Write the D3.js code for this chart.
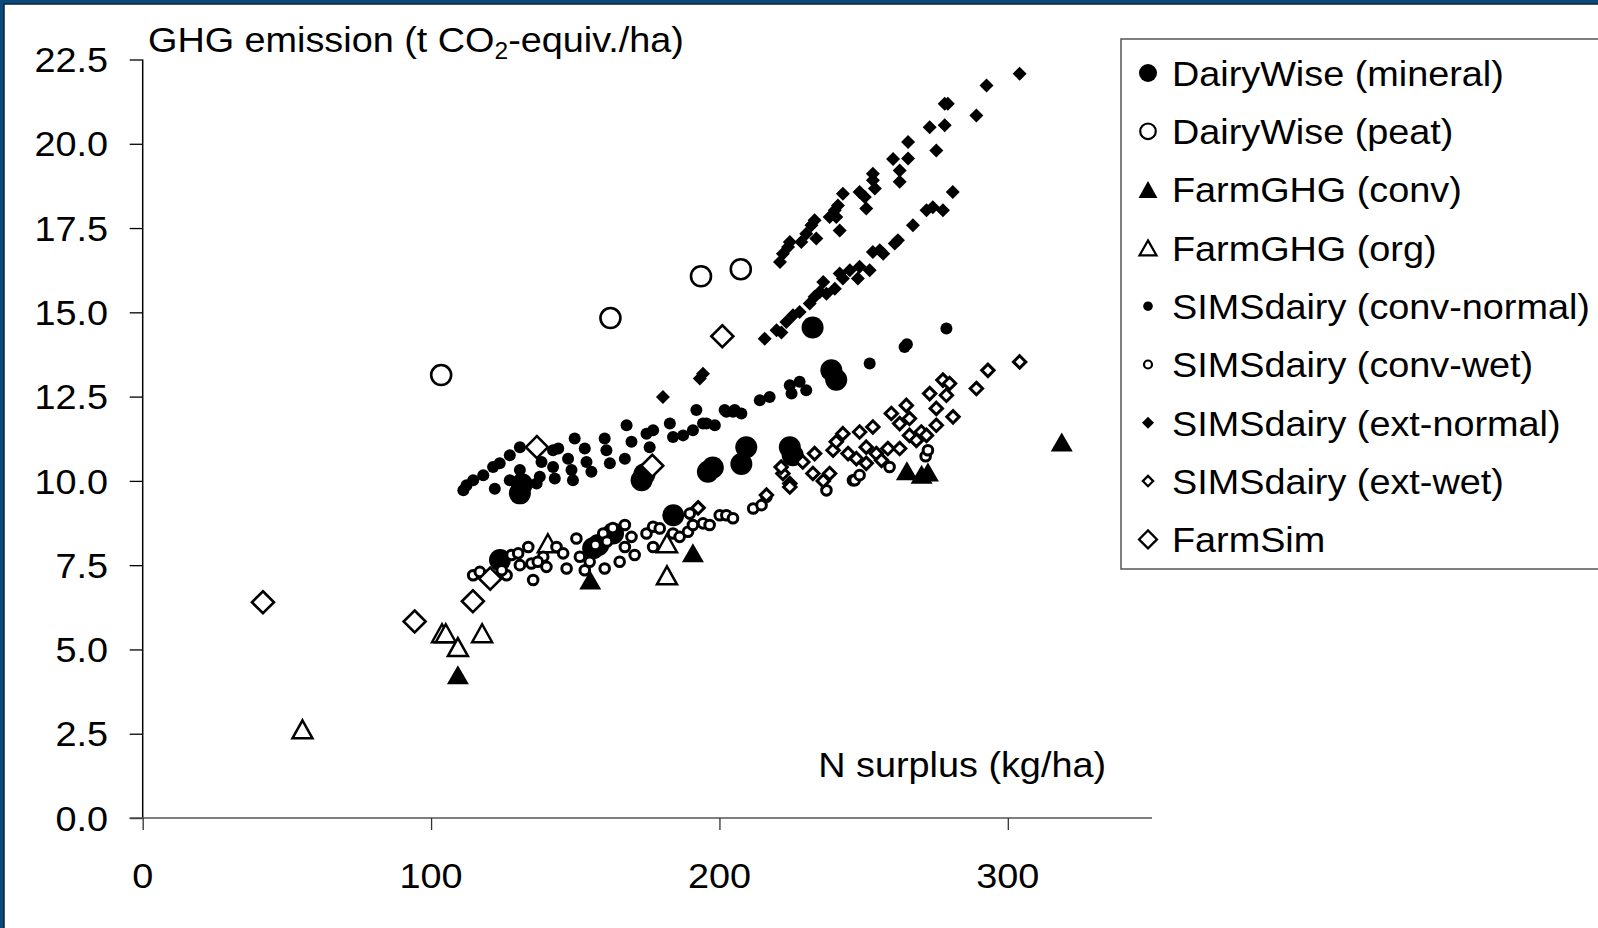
<!DOCTYPE html>
<html><head><meta charset="utf-8">
<script src="https://cdn.jsdelivr.net/npm/d3@7"></script>
<style>
html,body{margin:0;padding:0;background:#fff;}
svg{display:block;}
text{font-family:"Liberation Sans",Arial,sans-serif;fill:#000;}
</style></head>
<body>
<svg id="chart" width="1598" height="928"></svg>
<script>
// ---------- DATA ----------
const xTicks = [0, 100, 200, 300];
const yTicks = [0, 2.5, 5, 7.5, 10, 12.5, 15, 17.5, 20, 22.5];
const seriesNames = ["DairyWise (mineral)","DairyWise (peat)","FarmGHG (conv)","FarmGHG (org)",
  "SIMSdairy (conv-normal)","SIMSdairy (conv-wet)","SIMSdairy (ext-normal)","SIMSdairy (ext-wet)","FarmSim"];

const dairyMineral = [[123.9,7.65],[130.8,9.63],[131.5,9.9],[156.2,8.0],[158,8.1],[163.1,8.44],[173,10.02],[174,10.2],[184,8.98],[196,10.27],[197.7,10.4],[207.6,10.5],[209.3,11.0],[224.4,11.0],[225.4,10.76],[232.3,14.55],[238.8,13.28],[240.5,13.0]];
const dairyPeat = [[103.5,13.14],[162.2,14.83],[193.6,16.07],[207.4,16.28]];
const farmGHGconv = [[109.3,4.25],[155.2,7.06],[190.8,7.87],[265,10.3],[270.1,10.2],[272.3,10.26],[318.7,11.15]];
const farmGHGorg = [[55.4,2.63],[103.8,5.48],[105.1,5.48],[109.3,5.07],[117.7,5.48],[140.5,8.15],[181.8,8.15],[181.8,7.2]];
const simsConvNormal = [[111.2,9.72],[112.3,9.87],[114.6,10.02],[118.1,10.17],[121.5,10.41],[123.8,10.52],[127.3,10.76],[130.8,11.0],[122.1,9.77],[127.3,10.02],[130.8,10.32],[136.6,9.92],[137.7,10.12],[138.3,10.56],[142.3,10.91],[144.1,10.96],[142.3,10.41],[142.9,10.07],[147.5,10.66],[148.7,10.32],[149.2,10.02],[149.8,11.26],[153.3,10.96],[153.9,10.56],[155.6,10.27],[160.2,11.26],[160.8,10.91],[162,10.52],[167.8,11.65],[169.5,11.16],[167.2,10.66],[174.7,11.4],[177,11.5],[175.8,11.0],[182.8,11.7],[183.9,11.3],[187.4,11.35],[190.8,11.5],[192,12.1],[194.3,11.7],[198.4,11.65],[202.4,12.05],[205.3,12.1],[195.5,11.7],[201.8,12.1],[204.7,12.05],[207.6,12.0],[214,12.39],[217.4,12.49],[224.4,12.84],[225,12.59],[227.8,12.94],[230.1,12.69],[252.1,13.48],[264.2,13.97],[265,14.05],[278.7,14.52]];
const simsConvWet = [[114.6,7.2],[116.9,7.3],[120,7.2],[126.2,7.2],[127.9,7.8],[130.2,7.85],[133.7,8.04],[130.8,7.5],[135.4,7.06],[134.8,7.55],[138.9,7.75],[140,7.45],[143.5,8.04],[145.8,7.85],[147,7.4],[150.4,8.29],[151.6,7.75],[153.3,7.35],[159.7,8.44],[161,8.2],[163,8.6],[167.2,8.69],[169.5,8.34],[167.2,8.04],[170.6,7.8],[160.2,7.4],[165.4,7.6],[174.7,8.44],[177,8.64],[177,8.04],[179.3,8.59],[183.9,8.44],[186.2,8.34],[189.1,8.49],[190.8,8.69],[194.3,8.74],[196.6,8.69],[200.1,8.98],[202.4,8.98],[204.7,8.89],[189.7,9.03],[211.7,9.18],[214.6,9.28],[216.3,9.53],[237.1,9.72],[246.3,10.02],[246.9,10.02],[248.6,10.17],[259,10.41],[271.5,10.73],[272.3,10.91],[124.5,7.35],[137,7.6],[155,7.6],[157,8.1]];
const simsExtNormal = [[180.4,12.49],[193.2,13.04],[194.3,13.18],
  [221,16.49],[222,16.74],[223.8,16.94],[224.4,17.09],[228.4,17.09],[230.1,17.33],[231.9,17.58],[233,17.73],[233.6,17.19],[238.2,17.83],[240,18.03],[241.1,18.17],[240.5,17.83],[241.7,17.43],[242.8,18.52],[248.6,18.57],[250.4,18.42],[250.9,18.08],[253.2,19.11],[253.2,18.92],[253.9,18.67],[260.2,19.55],[262.5,19.21],[262.5,18.87],[265.4,20.05],[265.4,19.56],[272.9,20.49],[278.1,20.55],[275.2,19.8],[278.1,21.19],[279.2,21.19],[289.1,20.84],[292.6,21.73],[304.1,22.08],
  [215.7,14.22],[219.8,14.47],[221.5,14.4],[223.2,14.71],[225.5,14.91],[227.8,15.01],[231.3,15.26],[233,15.46],[234.8,15.6],[237.1,15.55],[240,15.7],[242.8,16.0],[245.2,16.25],[248,16.0],[252.1,16.25],[253.2,16.79],[256.8,16.74],[260.8,17.04],[261.9,17.14],[267.1,17.58],[271.8,18.03],[274,18.12],[277.5,18.03],[280.9,18.57],[236,15.9],[241.7,16.15],[248.6,16.35],[255.6,16.84]];
const simsExtWet = [[192.6,9.2],[216.3,9.58],[222,10.22],[221.4,10.41],[224.4,9.92],[228.9,10.56],[233,10.81],[232.4,10.22],[238.2,10.22],[239.4,10.91],[240.5,11.16],[242.8,11.4],[244.6,10.81],[247.5,10.66],[248.6,11.45],[250.9,11.0],[253.2,11.6],[250.9,10.52],[254.4,10.81],[256.2,10.61],[258.4,10.96],[259.6,12.0],[262.5,11.7],[262.5,10.96],[264.8,12.24],[265.9,11.85],[265.9,11.35],[268.3,11.2],[270,11.45],[271.8,11.35],[272.9,12.59],[275.2,12.15],[275.2,11.65],[277.5,12.99],[278.7,12.54],[281,11.9],[279.8,12.89],[289.1,12.74],[293.1,13.28],[304.1,13.53],[224.4,9.82],[236,10.0]];
const farmSim = [[41.7,6.4],[94.3,5.83],[114.5,6.43],[120.5,7.1],[136.7,11.0],[176.7,10.45],[201,14.29]];

const seriesData = [dairyMineral, dairyPeat, farmGHGconv, farmGHGorg, simsConvNormal, simsConvWet, simsExtNormal, simsExtWet, farmSim];

// ---------- MARKERS ----------
function circlePath(r){ return `M${-r},0A${r},${r} 0 1,0 ${r},0A${r},${r} 0 1,0 ${-r},0Z`; }
function triPath(w,h){ return `M0,${-h/2}L${w/2},${h/2}L${-w/2},${h/2}Z`; }
function diaPath(a){ return `M0,${-a}L${a},0L0,${a}L${-a},0Z`; }
const markers = [
  {d:circlePath(11), fill:"#000", stroke:"none", sw:0},
  {d:circlePath(10), fill:"#fff", stroke:"#000", sw:2.6},
  {d:triPath(22,19), fill:"#000", stroke:"none", sw:0},
  {d:triPath(20,18), fill:"#fff", stroke:"#000", sw:2.5},
  {d:circlePath(6), fill:"#000", stroke:"none", sw:0},
  {d:circlePath(4.8), fill:"#fff", stroke:"#000", sw:3},
  {d:diaPath(7), fill:"#000", stroke:"none", sw:0},
  {d:diaPath(6.2), fill:"#fff", stroke:"#000", sw:3},
  {d:diaPath(11), fill:"#fff", stroke:"#000", sw:2.6}
];
const legendMarkers = [
  {d:circlePath(9), fill:"#000", stroke:"none", sw:0},
  {d:circlePath(7.8), fill:"#fff", stroke:"#000", sw:2.2},
  {d:triPath(19,17), fill:"#000", stroke:"none", sw:0},
  {d:triPath(17,15), fill:"#fff", stroke:"#000", sw:2.2},
  {d:circlePath(4.8), fill:"#000", stroke:"none", sw:0},
  {d:circlePath(4), fill:"#fff", stroke:"#000", sw:2.2},
  {d:diaPath(6), fill:"#000", stroke:"none", sw:0},
  {d:diaPath(5.2), fill:"#fff", stroke:"#000", sw:2.2},
  {d:diaPath(9), fill:"#fff", stroke:"#000", sw:2.2}
];

// ---------- CHART ----------
const svg = d3.select("#chart");
const FS = 35.5, SX = 1.065;

// frame
svg.append("rect").attr("x",0).attr("y",0).attr("width",1598).attr("height",928).attr("fill","#0b4a7c");
svg.append("rect").attr("x",4).attr("y",4).attr("width",1600).attr("height",930).attr("fill","#fff")
  .attr("stroke","#0c2236").attr("stroke-width",1.5);

const x = d3.scaleLinear().domain([0,350]).range([142.7,1152]);
const y = d3.scaleLinear().domain([0,22.5]).range([818,59.5]);

function addText(g, tx, ty, str, anchor){
  return g.append("text").attr("transform",`translate(${tx},${ty}) scale(${SX},1)`)
    .attr("font-size",FS).attr("text-anchor",anchor||"start").text(str);
}

// y axis
const yAxis = svg.append("g").attr("transform",`translate(${x(0)},0)`)
  .call(d3.axisLeft(y).tickValues(yTicks).tickSize(13).tickFormat(d3.format(".1f")));
yAxis.select(".domain").attr("stroke","#000").attr("stroke-width",1.5).attr("d",`M0,${y(22.5)}V${y(0)}`);
yAxis.selectAll(".tick line").attr("stroke","#000").attr("stroke-width",1.3);
yAxis.selectAll(".tick text").remove();
yTicks.forEach(v => addText(svg, 108, y(v)+12.7, d3.format(".1f")(v), "end"));

// x axis
const xAxis = svg.append("g").attr("transform",`translate(0,${y(0)})`)
  .call(d3.axisBottom(x).tickValues(xTicks).tickSize(12).tickFormat(d3.format("d")));
xAxis.select(".domain").attr("stroke","#555").attr("stroke-width",1.5).attr("d",`M${x(0)-13},0H${x(350)}`);
xAxis.selectAll(".tick line").attr("stroke","#333").attr("stroke-width",1.3);
xAxis.selectAll(".tick text").remove();
xTicks.forEach(v => addText(svg, x(v), 888, String(v), "middle"));

// axis titles
const t = svg.append("text").attr("transform",`translate(148,52) scale(${SX},1)`).attr("font-size",FS);
t.append("tspan").text("GHG emission (t CO");
t.append("tspan").attr("font-size",FS*0.65).attr("dy",7).text("2");
t.append("tspan").attr("dy",-7).text("-equiv./ha)");
addText(svg, 1106, 777, "N surplus (kg/ha)", "end");

// points
const pg = svg.append("g");
seriesData.forEach((data, i) => {
  const m = markers[i];
  pg.append("g").selectAll("path").data(data).join("path")
    .attr("transform", d => `translate(${x(d[0])},${y(d[1])})`)
    .attr("d", m.d).attr("fill", m.fill).attr("stroke", m.stroke).attr("stroke-width", m.sw);
});

// legend
const lg = svg.append("g");
lg.append("rect").attr("x",1121).attr("y",39).attr("width",520).attr("height",530)
  .attr("fill","#fff").attr("stroke","#555").attr("stroke-width",1.5);
seriesNames.forEach((name, i) => {
  const cy = 73 + i*58.3;
  const m = legendMarkers[i];
  lg.append("path").attr("transform",`translate(1148,${cy})`).attr("d",m.d)
    .attr("fill",m.fill).attr("stroke",m.stroke).attr("stroke-width",m.sw);
  addText(lg, 1172, cy+12.7, name, "start");
});
</script>
</body></html>
